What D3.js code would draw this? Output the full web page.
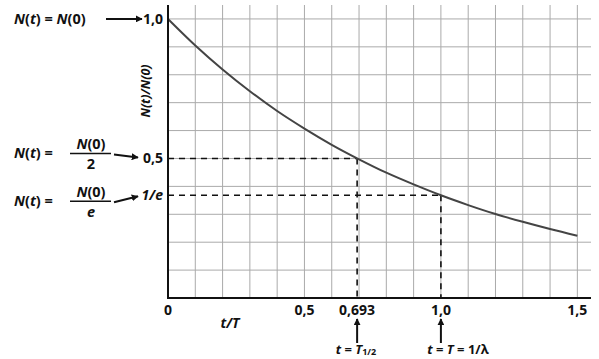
<!DOCTYPE html>
<html>
<head>
<meta charset="utf-8">
<script src="https://cdn.jsdelivr.net/npm/d3@7"></script>
<style>
  body { margin: 0; background: #fff; }
  svg { display: block; }
  text { font-family: "Open Sans", "DejaVu Sans", sans-serif; font-weight: bold; fill: #111; }
</style>
</head>
<body>
<div id="chart"></div>
<script>
// values, N(t)/N(0) against t/T
const tValues = [0, 0.1, 0.2, 0.3, 0.4, 0.5, 0.6, 0.7, 0.8, 0.9, 1.0, 1.1, 1.2, 1.3, 1.4, 1.5];
const ratioValues = [1.0, 0.905, 0.819, 0.741, 0.670, 0.607, 0.549, 0.497, 0.449, 0.407, 0.368, 0.333, 0.301, 0.273, 0.247, 0.223];

const xTicks = [0, 0.5, 0.693, 1.0, 1.5];
const xTickLabels = ['0', '0,5', '0,693', '1,0', '1,5'];
const yMarks = [1.0, 0.5, 0.368];
const yLabels = ['1,0', '0,5', '1/e'];
const gridX = d3.range(1, 16).map((i) => i / 10);
const gridY = d3.range(1, 11).map((i) => i / 10);

const width = 599;
const height = 359;

const svg = d3.select('#chart')
  .append('svg')
  .attr('width', width)
  .attr('height', height);

const x = d3.scaleLinear().domain([0, 1.55]).range([168, 591]);
const y = d3.scaleLinear().domain([0, 1.05]).range([298, 5]);

// arrow head
svg.append('defs').append('marker')
  .attr('id', 'arrow')
  .attr('viewBox', '0 0 10 10')
  .attr('refX', 9).attr('refY', 5)
  .attr('markerWidth', 7).attr('markerHeight', 7)
  .attr('markerUnits', 'userSpaceOnUse')
  .attr('orient', 'auto')
  .append('path')
  .attr('d', 'M0,0 L10,5 L0,10 z')
  .attr('fill', '#111');

// gridlines
const grid = svg.append('g').attr('stroke', '#aaa').attr('stroke-width', 1);
grid.selectAll('.gx').data(gridX).join('line')
  .attr('x1', (d) => x(d)).attr('x2', (d) => x(d))
  .attr('y1', y(1.05)).attr('y2', y(0));
grid.selectAll('.gy').data(gridY).join('line')
  .attr('x1', x(0)).attr('x2', x(1.55))
  .attr('y1', (d) => y(d)).attr('y2', (d) => y(d));

// dashed guides
const dash = svg.append('g').attr('stroke', '#111').attr('stroke-width', 1.6).attr('stroke-dasharray', '6,5');
dash.append('line').attr('x1', x(0)).attr('x2', x(0.693)).attr('y1', y(0.5)).attr('y2', y(0.5));
dash.append('line').attr('x1', x(0.693)).attr('x2', x(0.693)).attr('y1', y(0.5)).attr('y2', y(0));
dash.append('line').attr('x1', x(0)).attr('x2', x(1.0)).attr('y1', y(0.368)).attr('y2', y(0.368));
dash.append('line').attr('x1', x(1.0)).attr('x2', x(1.0)).attr('y1', y(0.368)).attr('y2', y(0));

// curve
const pts = tValues.map((t, i) => [t, ratioValues[i]]);
svg.append('path')
  .datum(pts)
  .attr('fill', 'none')
  .attr('stroke', '#444')
  .attr('stroke-width', 2)
  .attr('d', d3.line().x((d) => x(d[0])).y((d) => y(d[1])).curve(d3.curveMonotoneX));

// axes
svg.append('line').attr('x1', x(0)).attr('x2', x(0)).attr('y1', y(1.05)).attr('y2', y(0) + 1)
  .attr('stroke', '#111').attr('stroke-width', 2);
svg.append('line').attr('x1', x(0) - 1).attr('x2', x(1.55)).attr('y1', y(0)).attr('y2', y(0))
  .attr('stroke', '#111').attr('stroke-width', 2);

// x tick labels
svg.append('g').selectAll('text').data(xTicks).join('text')
  .attr('x', (d) => x(d))
  .attr('y', 315)
  .attr('text-anchor', 'middle')
  .attr('font-size', 14)
  .text((d, i) => xTickLabels[i]);

svg.append('text').attr('x', 230).attr('y', 328).attr('text-anchor', 'middle')
  .attr('font-size', 14).attr('font-style', 'italic').text('t/T');

// arrows up under 0.693 and 1.0
[0.693, 1.0].forEach((v) => {
  svg.append('line')
    .attr('x1', x(v)).attr('x2', x(v)).attr('y1', 343).attr('y2', 319)
    .attr('stroke', '#111').attr('stroke-width', 2).attr('marker-end', 'url(#arrow)');
});

const l1 = svg.append('text').attr('x', 356).attr('y', 354).attr('text-anchor', 'middle').attr('font-size', 13);
l1.append('tspan').attr('font-style', 'italic').text('t');
l1.append('tspan').text(' = ');
l1.append('tspan').attr('font-style', 'italic').text('T');
l1.append('tspan').attr('font-size', 9).attr('dy', 1).text('1/2');

const l2 = svg.append('text').attr('x', 458).attr('y', 354).attr('text-anchor', 'middle').attr('font-size', 13);
l2.append('tspan').attr('font-style', 'italic').text('t');
l2.append('tspan').text(' = ');
l2.append('tspan').attr('font-style', 'italic').text('T');
l2.append('tspan').text(' = 1/λ');

// y tick labels
svg.append('g').selectAll('text').data(yMarks).join('text')
  .attr('x', 163)
  .attr('y', (d) => y(d) + 5)
  .attr('text-anchor', 'end')
  .attr('font-size', 14)
  .attr('font-style', (d, i) => (i === 2 ? 'italic' : 'normal'))
  .text((d, i) => yLabels[i]);

// y axis title
svg.append('text')
  .attr('transform', `translate(150, 91) rotate(-90)`)
  .attr('text-anchor', 'middle')
  .attr('font-size', 12.5)
  .attr('font-style', 'italic')
  .text('N(t)/N(0)');

// left annotations
function nt(sel, xPos, yPos) {
  const t = sel.append('text').attr('x', xPos).attr('y', yPos).attr('font-size', 14.5);
  t.append('tspan').attr('font-style', 'italic').text('N');
  t.append('tspan').text('(');
  t.append('tspan').attr('font-style', 'italic').text('t');
  t.append('tspan').text(') =');
  return t;
}

const topLabel = nt(svg, 14, 24);
topLabel.append('tspan').text(' ');
topLabel.append('tspan').attr('font-style', 'italic').text('N');
topLabel.append('tspan').text('(0)');
svg.append('line').attr('x1', 106).attr('x2', 142).attr('y1', y(1.0)).attr('y2', y(1.0))
  .attr('stroke', '#111').attr('stroke-width', 2).attr('marker-end', 'url(#arrow)');

const denoms = [['2', 'normal', 0.5], ['e', 'italic', 0.368]];
denoms.forEach(([den, style, v]) => {
  const cy = y(v);
  const off = v === 0.5 ? -5 : 6;
  nt(svg, 14, cy + off + 5);
  const num = svg.append('text').attr('x', 91).attr('y', cy + off - 4).attr('text-anchor', 'middle').attr('font-size', 14.5);
  num.append('tspan').attr('font-style', 'italic').text('N');
  num.append('tspan').text('(0)');
  svg.append('line').attr('x1', 70).attr('x2', 111).attr('y1', cy + off).attr('y2', cy + off)
    .attr('stroke', '#111').attr('stroke-width', 1.5);
  svg.append('text').attr('x', 91).attr('y', cy + off + 16).attr('text-anchor', 'middle')
    .attr('font-size', 14.5).attr('font-style', style).text(den);
  svg.append('line').attr('x1', 114).attr('x2', 138)
    .attr('y1', v === 0.5 ? cy - 4 : cy + 7).attr('y2', v === 0.5 ? cy - 1 : cy + 1)
    .attr('stroke', '#111').attr('stroke-width', 2).attr('marker-end', 'url(#arrow)');
});
</script>
</body>
</html>
